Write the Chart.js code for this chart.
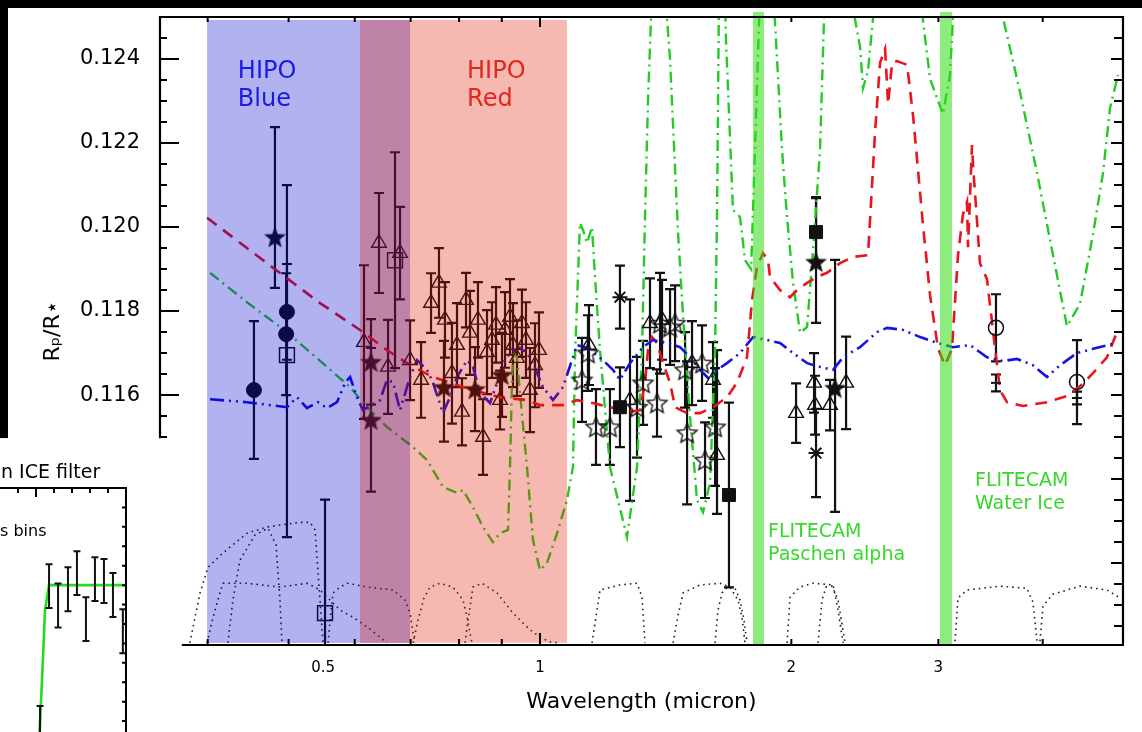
<!DOCTYPE html>
<html><head><meta charset="utf-8">
<script src="https://cdn.jsdelivr.net/npm/chart.js@4.4.1/dist/chart.umd.min.js"></script>
<style>
html,body{margin:0;padding:0;background:#fff;overflow:hidden}
#wrap{position:relative;width:1142px;height:732px}
#main{position:absolute;left:0;top:0;width:1142px;height:732px}
#inset{position:absolute;left:0;top:460px;width:130px;height:272px}
</style></head><body>
<div id="wrap"><canvas id="main" width="1142" height="732"></canvas><canvas id="inset" width="130" height="272"></canvas></div>
<script>
// ---------------- axis ticks ----------------
const xTickValues = [0.4,0.5,0.6,0.7,0.8,0.9,1,2,3,4];
const xLongTicks = [1];
const xLabelPositions = [0.55,1,2,3];      // label "0.5" sits right of its tick in the reference
const xLabelTexts = ['0.5','1','2','3'];
const yTickValues = [0.1105,0.111,0.1115,0.112,0.1125,0.113,0.1135,0.114,0.1145,0.115,0.1155,0.116,0.1165,0.117,0.1175,0.118,0.1185,0.119,0.1195,0.12,0.1205,0.121,0.1215,0.122,0.1225,0.123,0.1235,0.124,0.1245];
const yMajorTicks = [0.112,0.114,0.116,0.118,0.12,0.122,0.124];
const yLabelValues = [0.116,0.118,0.12,0.122,0.124];

// ---------------- data points: [wavelength, Rp/R*, err+, err-] ----------------
const filledCircles = [[0.4544,0.11612,0.00164,0.00164],[0.4977,0.11798,0.00114,0.00114],[0.4966,0.11745,0.00145,0.00145]];
const filledStars = [[0.4815,0.11976,0.00262,0.00121],[0.6275,0.11679,0.00102,0.00102],[0.6275,0.11541,0.00171,0.00171],[0.7674,0.11619,0.0011,0.0013],[0.8360,0.11614,0.001,0.001],[0.9006,0.11648,0.001,0.001],[2.1409,0.11917,0.00152,0.00145],[2.2562,0.11617,0.00305,0.00295]];
const openTriangles = [[0.6155,0.11726,0.00183,0.00183],[0.6415,0.11962,0.00119,0.00119],[0.6577,0.11667,0.00112,0.00112],[0.6798,0.11938,0.0011,0.0011],[0.6989,0.11683,0.00095,0.00095],[0.7204,0.11636,0.0009,0.0009],[0.7405,0.11819,0.00071,0.00071],[0.7569,0.11867,0.00083,0.00083],[0.7695,0.11779,0.0009,0.0009],[0.7845,0.11652,0.0012,0.0012],[0.7955,0.11719,0.001,0.001],[0.8065,0.11560,0.0008,0.0008],[0.8155,0.11826,0.00065,0.00065],[0.8245,0.11748,0.001,0.001],[0.8428,0.11779,0.0009,0.0009],[0.8546,0.11500,0.0009,0.0009],[0.8641,0.11702,0.001,0.001],[0.8761,0.11731,0.0009,0.0009],[0.8858,0.11767,0.0009,0.0009],[0.8957,0.11588,0.0007,0.0007],[0.9081,0.11755,0.0009,0.0009],[0.9207,0.11786,0.0009,0.0009],[0.9283,0.11719,0.001,0.001],[0.9386,0.11688,0.0009,0.0009],[0.9515,0.11771,0.0008,0.0008],[0.9621,0.11731,0.0009,0.0009],[0.9728,0.11612,0.001,0.001],[0.9863,0.11671,0.001,0.001],[0.9972,0.11707,0.0009,0.0009],[1.1447,0.11719,0.00095,0.00095],[1.2817,0.11588,0.0024,0.0024],[1.3544,0.11771,0.00107,0.00107],[1.4001,0.11779,0.00095,0.00095],[1.5209,0.11676,0.001,0.001],[1.6116,0.11636,0.0009,0.0009],[1.6293,0.11457,0.0025,0.0014],[2.0262,0.11557,0.00071,0.00071],[2.1291,0.11629,0.00071,0.00071],[2.1350,0.11576,0.0007,0.0007],[2.2253,0.11576,0.0006,0.0006],[2.3258,0.11629,0.0011,0.0011]];
const openStars = [[1.1228,0.11636,0.001,0.001],[1.1415,0.11700,0.0009,0.0009],[1.1670,0.11524,0.0009,0.0009],[1.2128,0.11524,0.0009,0.0009],[1.3068,0.11571,0.0012,0.0012],[1.3287,0.11629,0.001,0.001],[1.3809,0.11581,0.0008,0.0008],[1.3924,0.11771,0.0012,0.0012],[1.4314,0.11762,0.0009,0.0009],[1.4513,0.11771,0.0009,0.0009],[1.4920,0.11660,0.0009,0.0009],[1.5002,0.11510,0.0017,0.0017],[1.5634,0.11676,0.0009,0.0009],[1.5764,0.11445,0.0009,0.0009],[1.6206,0.11524,0.0014,0.0014]];
const asterisks = [[1.2467,0.11833,0.00075,0.00075],[2.1409,0.11462,0.00105,0.00105]];
const filledSquares = [[1.2467,0.11571,0.00095,0.00095],[1.6839,0.11362,0.0022,0.0022],[2.1409,0.11988,0.00083,0.00083]];
const openSquares = [[0.4977,0.11695,0.00405,0.00433],[0.6705,0.11921,0.00257,0.00257],[0.5528,0.11081,0.0027,0.0027]];
const openCircles = [[3.5164,0.11760,0.0008,0.0008],[4.3966,0.11631,0.001,0.001]];
const dashMarks = [[3.5164,0.11629,0.0002,0.0002],[4.3966,0.11593,0.00015,0.00015]];

// ---------------- model spectra: [wavelength, Rp/R*] ----------------
const redModel = [[0.3993,0.12022],[0.4775,0.11905],[0.5452,0.11819],[0.6088,0.11755],[0.6558,0.11707],[0.7047,0.11667],[0.7446,0.11643],[0.8088,0.11619],[0.8475,0.11607],[0.8957,0.11595],[0.9648,0.11588],[1.0,0.11576],[1.0655,0.11576],[1.1074,0.11588],[1.1574,0.11581],[1.2128,0.11571],[1.2817,0.11560],[1.3177,0.11564],[1.3359,0.11629],[1.3470,0.11707],[1.3619,0.11738],[1.3809,0.11724],[1.4040,0.11676],[1.4314,0.11629],[1.4513,0.11571],[1.5002,0.11557],[1.5548,0.11557],[1.6116,0.11571],[1.6749,0.11595],[1.7215,0.11629],[1.7698,0.11690],[1.7944,0.11826],[1.8193,0.11905],[1.8498,0.11938],[1.8755,0.11921],[1.8856,0.11881],[1.9385,0.11850],[1.9929,0.11833],[2.0318,0.11850],[2.0887,0.11867],[2.1468,0.11881],[2.2069,0.11891],[2.2876,0.11914],[2.3712,0.11929],[2.4710,0.11933],[2.5193,0.12226],[2.5543,0.12391],[2.5899,0.12424],[2.6115,0.12293],[2.6405,0.12391],[2.6770,0.12395],[2.7522,0.12386],[2.7981,0.12264],[2.8764,0.12002],[2.9325,0.11836],[2.9979,0.11710],[3.0549,0.11671],[3.1145,0.11710],[3.1667,0.11933],[3.2107,0.12031],[3.2465,0.12060],[3.2555,0.11952],[3.2916,0.12195],[3.3007,0.12148],[3.3645,0.11914],[3.4302,0.11876],[3.5556,0.11612],[3.6251,0.11583],[3.7880,0.11574],[4.0478,0.11583],[4.2768,0.11598],[4.4333,0.11621],[4.5951,0.11652],[4.7753,0.11690],[4.9091,0.11750]];
const blueModel = [[0.4026,0.11590],[0.4457,0.11583],[0.4977,0.11571],[0.5116,0.11595],[0.5260,0.11569],[0.5422,0.11583],[0.5558,0.11569],[0.5714,0.11583],[0.5842,0.11629],[0.5924,0.11643],[0.6037,0.11595],[0.6138,0.11564],[0.6433,0.11588],[0.6558,0.11636],[0.6668,0.11631],[0.6798,0.11564],[0.6989,0.11643],[0.7125,0.11683],[0.7324,0.11660],[0.7446,0.11629],[0.7653,0.11557],[0.7802,0.11595],[0.7955,0.11643],[0.8178,0.11683],[0.8313,0.11667],[0.8475,0.11605],[0.8713,0.11581],[0.8883,0.11629],[0.9031,0.11676],[0.9207,0.11700],[0.9463,0.11712],[0.9648,0.11700],[0.9809,0.11676],[1.0083,0.11619],[1.0365,0.11588],[1.0655,0.11619],[1.1074,0.11719],[1.1384,0.11712],[1.1897,0.11683],[1.2229,0.11660],[1.2467,0.11636],[1.2817,0.11676],[1.3287,0.11714],[1.3657,0.11731],[1.4196,0.11724],[1.4715,0.11714],[1.5126,0.11690],[1.5548,0.11660],[1.5983,0.11636],[1.6293,0.11660],[1.6749,0.11676],[1.7359,0.11700],[1.7994,0.11738],[1.8703,0.11731],[1.9385,0.11724],[2.0094,0.11700],[2.0887,0.11676],[2.1646,0.11667],[2.2438,0.11660],[2.3066,0.11690],[2.4170,0.11714],[2.5333,0.11750],[2.6043,0.11760],[2.7219,0.11755],[2.8527,0.11738],[2.9897,0.11724],[3.1232,0.11714],[3.2734,0.11719],[3.4302,0.11690],[3.5852,0.11681],[3.7266,0.11686],[3.8942,0.11671],[4.0478,0.11643],[4.1958,0.11671],[4.3966,0.11700],[4.5951,0.11710],[4.9091,0.11724]];
const greenModel = [[0.4026,0.11891],[0.4470,0.11819],[0.4977,0.11750],[0.5924,0.11619],[0.6206,0.11571],[0.6558,0.11524],[0.7047,0.11476],[0.7324,0.11445],[0.7653,0.11381],[0.7955,0.11367],[0.8088,0.11374],[0.8313,0.11333],[0.8546,0.11286],[0.8783,0.11250],[0.8957,0.11271],[0.9156,0.11279],[0.9207,0.11429],[0.9257,0.11629],[0.9283,0.11700],[0.9386,0.11690],[0.9463,0.11605],[0.9648,0.11429],[0.9809,0.11255],[1.0,0.11183],[1.0195,0.11200],[1.0480,0.11271],[1.0773,0.11350],[1.0953,0.11429],[1.1013,0.11690],[1.1166,0.12010],[1.1259,0.11993],[1.1384,0.11962],[1.1542,0.12000],[1.1638,0.11881],[1.1800,0.11707],[1.2128,0.11429],[1.2711,0.11262],[1.3068,0.11429],[1.3250,0.11707],[1.3359,0.12024],[1.3470,0.12302],[1.3619,0.1256],[1.4118,0.1256],[1.4314,0.12398],[1.4634,0.11986],[1.4838,0.11786],[1.5126,0.11548],[1.5419,0.11350],[1.5677,0.11321],[1.5983,0.11391],[1.6206,0.11707],[1.6293,0.12024],[1.6383,0.1256],[1.6655,0.1256],[1.6702,0.12445],[1.7026,0.12041],[1.7359,0.12024],[1.7601,0.11921],[1.7900,0.11900],[1.8345,0.1256],[1.8856,0.1256],[1.9113,0.12493],[1.9493,0.12183],[1.9764,0.12024],[2.0094,0.11867],[2.0487,0.11748],[2.0887,0.11762],[2.1232,0.11945],[2.1646,0.12183],[2.1883,0.12493],[2.2000,0.1256],[2.3510,0.1256],[2.4170,0.12429],[2.4371,0.12331],[2.4710,0.12372],[2.5054,0.12498],[2.5543,0.1256],[2.8527,0.1256],[2.8764,0.12488],[2.9325,0.12352],[3.0380,0.12269],[3.0974,0.12362],[3.1232,0.12498],[3.1842,0.1256],[3.5556,0.1256],[3.5852,0.12498],[3.7576,0.12321],[3.9375,0.12129],[4.1155,0.11933],[4.2768,0.11764],[4.4333,0.11817],[4.5951,0.11983],[4.7242,0.12129],[4.8156,0.12283],[4.9227,0.12362]];

// ---------------- filter transmission curves (dotted) ----------------
const filterA = [[0.3808,0.11010],[0.3916,0.11129],[0.4004,0.11190],[0.4172,0.11224],[0.4457,0.11271],[0.4711,0.11286],[0.5159,0.11297],[0.5304,0.11297],[0.5377,0.11279],[0.5452,0.11112],[0.5497,0.11010]];
const filterB = [[0.3993,0.11010],[0.4060,0.11071],[0.4137,0.11129],[0.4172,0.11152],[0.4457,0.11152],[0.4882,0.11143],[0.5260,0.11152],[0.5452,0.11136],[0.5605,0.11112],[0.5762,0.11088],[0.5971,0.11071],[0.6206,0.11048],[0.6433,0.11024],[0.6558,0.11010]];
const filterC = [[0.4229,0.11010],[0.4288,0.11112],[0.4372,0.11207],[0.4557,0.11267],[0.4724,0.11283],[0.4829,0.11243],[0.4882,0.11112],[0.4909,0.11010]];
const filterD = [[0.5574,0.11010],[0.5621,0.11088],[0.5652,0.11129],[0.5762,0.11143],[0.5874,0.11152],[0.6206,0.11143],[0.6668,0.11136],[0.6893,0.11112],[0.6989,0.11081],[0.7047,0.11033],[0.7086,0.11010]];
const filterE = [[0.7047,0.11010],[0.7144,0.11064],[0.7263,0.11117],[0.7385,0.11143],[0.7590,0.11152],[0.7867,0.11143],[0.8088,0.11112],[0.8178,0.11071],[0.8245,0.11033],[0.8290,0.11010]];
const filterF = [[0.8132,0.11010],[0.8199,0.11064],[0.8313,0.11143],[0.8522,0.11152],[0.8883,0.11129],[0.9283,0.11081],[0.9728,0.11041],[1.0,0.11024],[1.0280,0.11012],[1.0567,0.11010]];
const filterG = [[1.1542,0.11010],[1.1702,0.11088],[1.1800,0.11136],[1.2467,0.11148],[1.3068,0.11152],[1.3250,0.11119],[1.3359,0.11010]];
const filterH = [[1.4433,0.11010],[1.4634,0.11076],[1.4838,0.11129],[1.5548,0.11148],[1.6428,0.11152],[1.6886,0.11143],[1.7263,0.11112],[1.7456,0.11071],[1.7601,0.11010]];
const filterH2 = [[1.6206,0.11010],[1.6338,0.11088],[1.6520,0.11129],[1.6796,0.11145],[1.7123,0.11140],[1.7359,0.11112],[1.7553,0.11064],[1.7698,0.11010]];
const filterI = [[1.9764,0.11010],[1.9929,0.11119],[2.0487,0.11143],[2.1232,0.11152],[2.2438,0.11148],[2.2750,0.11088],[2.3066,0.11010]];
const filterI2 = [[2.1527,0.11010],[2.1766,0.11112],[2.2008,0.11143],[2.2377,0.11145],[2.2750,0.11112],[2.3194,0.11010]];
const filterJ = [[3.1405,0.11014],[3.1667,0.11117],[3.2465,0.11136],[3.5556,0.11145],[3.8301,0.11140],[3.8942,0.11107],[3.9375,0.11014]];
const filterK = [[3.9702,0.11014],[4.0033,0.11098],[4.1155,0.11126],[4.4333,0.11145],[4.7753,0.11136],[4.9501,0.11117]];

// ---------------- instrument bands (wavelength ranges) ----------------
const hipoBlue = [0.3993,0.6989];
const hipoRed = [0.6088,1.0773];
const flitecamBands = [[1.7994,1.8549],[3.013,3.1145]];

// ---------------- inset (partial panel) ----------------
const insetCurve = [[4.35,0.2],[4.67,0.512],[5.0,0.871],[5.44,1.0],[14,1.0]];
const insetBins = [[4.45,0.265,0.113],[5.45,0.995,0.113],[6.45,0.895,0.113],[7.55,0.979,0.113],[8.55,1.062,0.113],[9.55,0.825,0.113],[10.55,1.031,0.113],[11.55,1.021,0.113],[12.55,0.949,0.113],[13.65,0.763,0.113]];
const insetXTicks = [2,4,6,8,10,12];
const insetXLong = [4];
const insetYTicks = [0.3,0.4,0.5,0.6,0.7,0.8,0.9,1.0,1.1,1.2,1.3,1.4];

// ============ rendering ============
const FONT = '"DejaVu Sans", "Verdana", sans-serif';
const INK = '#111';

function starCanvas(outer, innerRatio, filled){
  const s = Math.ceil(outer*2+4);
  const c = document.createElement('canvas'); c.width = s; c.height = s;
  const g = c.getContext('2d');
  g.translate(s/2, s/2 + outer*0.08);
  g.beginPath();
  for (let i=0;i<10;i++){
    const r = (i%2) ? outer*innerRatio : outer;
    const a = -Math.PI/2 + i*Math.PI/5;
    g.lineTo(r*Math.cos(a), r*Math.sin(a));
  }
  g.closePath();
  if (filled){ g.fillStyle = INK; g.fill(); }
  else { g.lineWidth = 1.4; g.strokeStyle = INK; g.lineJoin='miter'; g.stroke(); }
  return c;
}
const STAR_FILLED = starCanvas(11.5, 0.42, true);
const STAR_OPEN = starCanvas(10.5, 0.46, false);

const pts = a => a.map(p => ({x:p[0], y:p[1]}));
function markers(arr, style, radius, filled, bw){
  return {data: pts(arr), err: arr.map(p=>[p[2],p[3]]), showLine:false,
    pointStyle: style, pointRadius: radius,
    pointBackgroundColor: filled ? INK : 'rgba(0,0,0,0)', pointBorderColor: INK,
    pointBorderWidth: bw, borderColor: INK, backgroundColor: filled ? INK : 'rgba(0,0,0,0)'};
}
function curve(arr, color, width, dash){
  return {data: pts(arr), showLine:true, pointRadius:0, borderColor:color, backgroundColor:color,
    borderWidth:width, borderDash:dash, fill:false, tension:0, borderCapStyle:'butt'};
}
const filterStyle = a => curve(a, '#222', 1.6, [1.6,4]);

const datasets = [
  markers(filledStars, STAR_FILLED, 11, true, 1),
  markers(filledCircles, 'circle', 7.5, true, 1),
  markers(filledSquares, 'rect', 9.2, true, 1),
  markers(openTriangles, 'triangle', 8.5, false, 1.4),
  markers(openStars, STAR_OPEN, 10, false, 1.4),
  markers(asterisks, 'star', 7.5, false, 2),
  markers(openSquares, 'rect', 10.5, false, 1.5),
  markers(openCircles, 'circle', 7.5, false, 1.5),
  markers(dashMarks, 'line', 5, false, 2),
  curve(blueModel, '#1414e0', 2.6, [14,5,2,5,2,5]),
  curve(redModel, '#e8141e', 2.6, [12,8]),
  curve(greenModel, '#22cc22', 2.4, [11,5,2,5]),
  filterStyle(filterA), filterStyle(filterB), filterStyle(filterC), filterStyle(filterD),
  filterStyle(filterE), filterStyle(filterF), filterStyle(filterG), filterStyle(filterH),
  filterStyle(filterH2), filterStyle(filterI), filterStyle(filterI2), filterStyle(filterJ), filterStyle(filterK)
];

// chart-frame configuration
const frameCfg = {leftAxisMin: 0.115, bottomAxisMin: 0.3736, shadeTop: 0.12493, shadeBottom: 0.1101, bandTop: 0.12512, bandBottom: 0.11005};
const notes = [
  {text:'HIPO', x:0.4347, y:0.12369, color:'#1a1ae6', size:24},
  {text:'Blue', x:0.4347, y:0.12302, color:'#1a1ae6', size:24},
  {text:'HIPO', x:0.8178, y:0.12369, color:'#e3261a', size:24},
  {text:'Red',  x:0.8178, y:0.12302, color:'#e3261a', size:24},
  {text:'FLITECAM', x:1.8755, y:0.11274, color:'#36d92a', size:19},
  {text:'Paschen alpha', x:1.8755, y:0.11219, color:'#36d92a', size:19},
  {text:'FLITECAM', x:3.319, y:0.11395, color:'#36d92a', size:19},
  {text:'Water Ice', x:3.319, y:0.11341, color:'#36d92a', size:19}
];
const near = (v, list) => list.some(m => Math.abs(m - v) < 1e-7);

const errorBars = {
  id:'errorBars',
  beforeDatasetsDraw(chart){
    const {ctx, chartArea:a, scales:{x, y}} = chart;
    ctx.save();
    ctx.beginPath(); ctx.rect(a.left, a.top, a.right-a.left, a.bottom-a.top); ctx.clip();
    ctx.strokeStyle = INK; ctx.lineWidth = 2.2; ctx.lineCap = 'butt';
    chart.data.datasets.forEach(ds => {
      if (!ds.err) return;
      ds.err.forEach((e, i) => {
        const d = ds.data[i];
        const px = x.getPixelForValue(d.x);
        const yt = y.getPixelForValue(d.y + e[0]);
        const yb = y.getPixelForValue(d.y - e[1]);
        ctx.beginPath();
        ctx.moveTo(px, yt); ctx.lineTo(px, yb);
        ctx.moveTo(px-5, yt); ctx.lineTo(px+5, yt);
        ctx.moveTo(px-5, yb); ctx.lineTo(px+5, yb);
        ctx.stroke();
      });
    });
    ctx.restore();
  }
};

const decor = {
  id:'decor',
  beforeDraw(chart){
    const ctx = chart.ctx;
    ctx.save();
    ctx.fillStyle = '#fff'; ctx.fillRect(0, 0, chart.width, chart.height);
    ctx.fillStyle = '#000';
    ctx.fillRect(0, 0, chart.width, 8);
    ctx.fillRect(0, 0, 8, chart.scales.y.getPixelForValue(frameCfg.leftAxisMin) + 1);
    ctx.restore();
  },
  afterDatasetsDraw(chart){
    const {ctx, scales:{x, y}} = chart;
    ctx.save();
    const yt = y.getPixelForValue(frameCfg.shadeTop), yb = y.getPixelForValue(frameCfg.shadeBottom);
    let x0 = x.getPixelForValue(hipoBlue[0]), x1 = x.getPixelForValue(hipoBlue[1]);
    ctx.fillStyle = 'rgba(0,0,210,0.3)'; ctx.fillRect(x0, yt, x1-x0, yb-yt);
    x0 = x.getPixelForValue(hipoRed[0]); x1 = x.getPixelForValue(hipoRed[1]);
    ctx.fillStyle = 'rgba(224,23,0,0.3)'; ctx.fillRect(x0, yt, x1-x0, yb-yt);
    const gt = y.getPixelForValue(frameCfg.bandTop), gb = y.getPixelForValue(frameCfg.bandBottom);
    ctx.fillStyle = 'rgba(50,220,20,0.55)';
    flitecamBands.forEach(b => {
      const b0 = x.getPixelForValue(b[0]), b1 = x.getPixelForValue(b[1]);
      ctx.fillRect(b0, gt, b1-b0, gb-gt);
    });
    ctx.textBaseline = 'middle'; ctx.textAlign = 'left';
    notes.forEach(n => {
      ctx.font = n.size + 'px ' + FONT;
      ctx.fillStyle = n.color;
      ctx.fillText(n.text, x.getPixelForValue(n.x), y.getPixelForValue(n.y));
    });
    ctx.restore();
  },
  afterDraw(chart){
    const {ctx, chartArea:a, scales:{x, y}} = chart;
    const yEnd = y.getPixelForValue(frameCfg.leftAxisMin);
    const xStart = x.getPixelForValue(frameCfg.bottomAxisMin);
    ctx.save();
    ctx.fillStyle = '#fff';
    ctx.fillRect(0, yEnd + 1.5, xStart - 1, chart.height - yEnd);
    ctx.strokeStyle = '#000'; ctx.lineWidth = 2.2; ctx.lineCap = 'square';
    ctx.beginPath();
    ctx.moveTo(a.left, yEnd); ctx.lineTo(a.left, a.top); ctx.lineTo(a.right, a.top);
    ctx.lineTo(a.right, a.bottom); ctx.lineTo(xStart, a.bottom);
    ctx.stroke();
    ctx.lineCap = 'butt'; ctx.lineWidth = 2;
    ctx.beginPath();
    xTickValues.forEach(v => {
      const px = x.getPixelForValue(v);
      const longT = near(v, xLongTicks);
      ctx.moveTo(px, a.bottom); ctx.lineTo(px, a.bottom - (longT ? 12 : 6));
      ctx.moveTo(px, a.top); ctx.lineTo(px, a.top + (longT ? 10 : 5));
    });
    yTickValues.forEach(v => {
      const py = y.getPixelForValue(v);
      const major = near(v, yMajorTicks);
      if (v >= frameCfg.leftAxisMin - 1e-9) { ctx.moveTo(a.left, py); ctx.lineTo(a.left + (major ? 19 : 7), py); }
      ctx.moveTo(a.right, py); ctx.lineTo(a.right - (major ? 12 : 9), py);
    });
    ctx.stroke();
    ctx.restore();
  }
};

new Chart(document.getElementById('main'), {
  type: 'scatter',
  data: { datasets },
  options: {
    responsive: false, animation: false, events: [],
    layout: { padding: { left: 0, right: 19, top: 17, bottom: 0 } },
    plugins: { legend: { display: false }, tooltip: { enabled: false } },
    scales: {
      x: {
        type: 'logarithmic', min: 0.3507, max: 4.9913, bounds: 'data',
        grid: { display: false }, border: { display: false },
        afterBuildTicks: s => { s.ticks = xLabelPositions.map(v => ({ value: v })); },
        afterFit: s => { s.height = 87; s.paddingLeft = 0; s.paddingRight = 0; },
        ticks: { autoSkip: false, maxRotation: 0, padding: 6, color: '#000',
          font: { family: FONT, size: 15 },
          callback: (v, i) => xLabelTexts[i] },
        title: { display: true, text: 'Wavelength (micron)', color: '#000',
          font: { family: FONT, size: 22 }, padding: { top: 0, bottom: 17 } }
      },
      y: {
        type: 'linear', min: 0.11005, max: 0.125, bounds: 'data',
        grid: { display: false }, border: { display: false },
        afterBuildTicks: s => { s.ticks = yLabelValues.map(v => ({ value: v })); },
        afterFit: s => { s.width = 160; s.paddingTop = 0; s.paddingBottom = 0; },
        ticks: { autoSkip: false, padding: 12, color: '#000',
          font: { family: FONT, size: 21 },
          callback: v => Number(v).toFixed(3) },
        title: { display: true, text: 'Rₚ/R⋆', color: '#000',
          font: { family: FONT, size: 22 }, padding: { top: 40, bottom: 0 } }
      }
    }
  },
  plugins: [errorBars, decor]
});

// ---------------- inset chart ----------------
const insetDecor = {
  id:'insetDecor',
  beforeDraw(chart){
    const ctx = chart.ctx; ctx.save(); ctx.fillStyle = '#fff'; ctx.fillRect(0,0,chart.width,chart.height); ctx.restore();
  },
  afterDatasetsDraw(chart){
    const {ctx, chartArea:a, scales:{x, y}} = chart;
    ctx.save();
    ctx.strokeStyle = INK; ctx.lineWidth = 2;
    insetBins.forEach(b => {
      const px = x.getPixelForValue(b[0]);
      const yt = y.getPixelForValue(b[1] + b[2]), yb = y.getPixelForValue(b[1] - b[2]);
      ctx.beginPath();
      ctx.moveTo(px, yt); ctx.lineTo(px, yb);
      ctx.moveTo(px-3.5, yt); ctx.lineTo(px+3.5, yt);
      ctx.moveTo(px-3.5, yb); ctx.lineTo(px+3.5, yb);
      ctx.stroke();
    });
    ctx.strokeStyle = '#000'; ctx.lineWidth = 2;
    ctx.beginPath();
    ctx.moveTo(a.left, a.top); ctx.lineTo(a.right, a.top); ctx.lineTo(a.right, a.bottom);
    insetXTicks.forEach(v => { const px = x.getPixelForValue(v); ctx.moveTo(px, a.top); ctx.lineTo(px, a.top + (near(v, insetXLong) ? 9 : 5)); });
    insetYTicks.forEach(v => { const py = y.getPixelForValue(v); ctx.moveTo(a.right, py); ctx.lineTo(a.right - 4, py); });
    ctx.stroke();
    ctx.fillStyle = '#000'; ctx.textBaseline = 'middle'; ctx.textAlign = 'left';
    ctx.font = '19px ' + FONT; ctx.fillText('n ICE filter', 1, 13);
    ctx.font = '16px ' + FONT; ctx.fillText('s bins', 0, 72);
    ctx.restore();
  }
};
new Chart(document.getElementById('inset'), {
  type: 'scatter',
  data: { datasets: [ curve(insetCurve, '#22dd22', 2.6, []) ] },
  options: {
    responsive: false, animation: false, events: [],
    layout: { padding: { left: 0, right: 4, top: 28, bottom: 0 } },
    plugins: { legend: { display: false }, tooltip: { enabled: false } },
    scales: {
      x: { type: 'linear', min: 0, max: 14, display: false },
      y: { type: 'linear', min: 0.244, max: 1.5, display: false }
    }
  },
  plugins: [insetDecor]
});
</script>
</body></html>
